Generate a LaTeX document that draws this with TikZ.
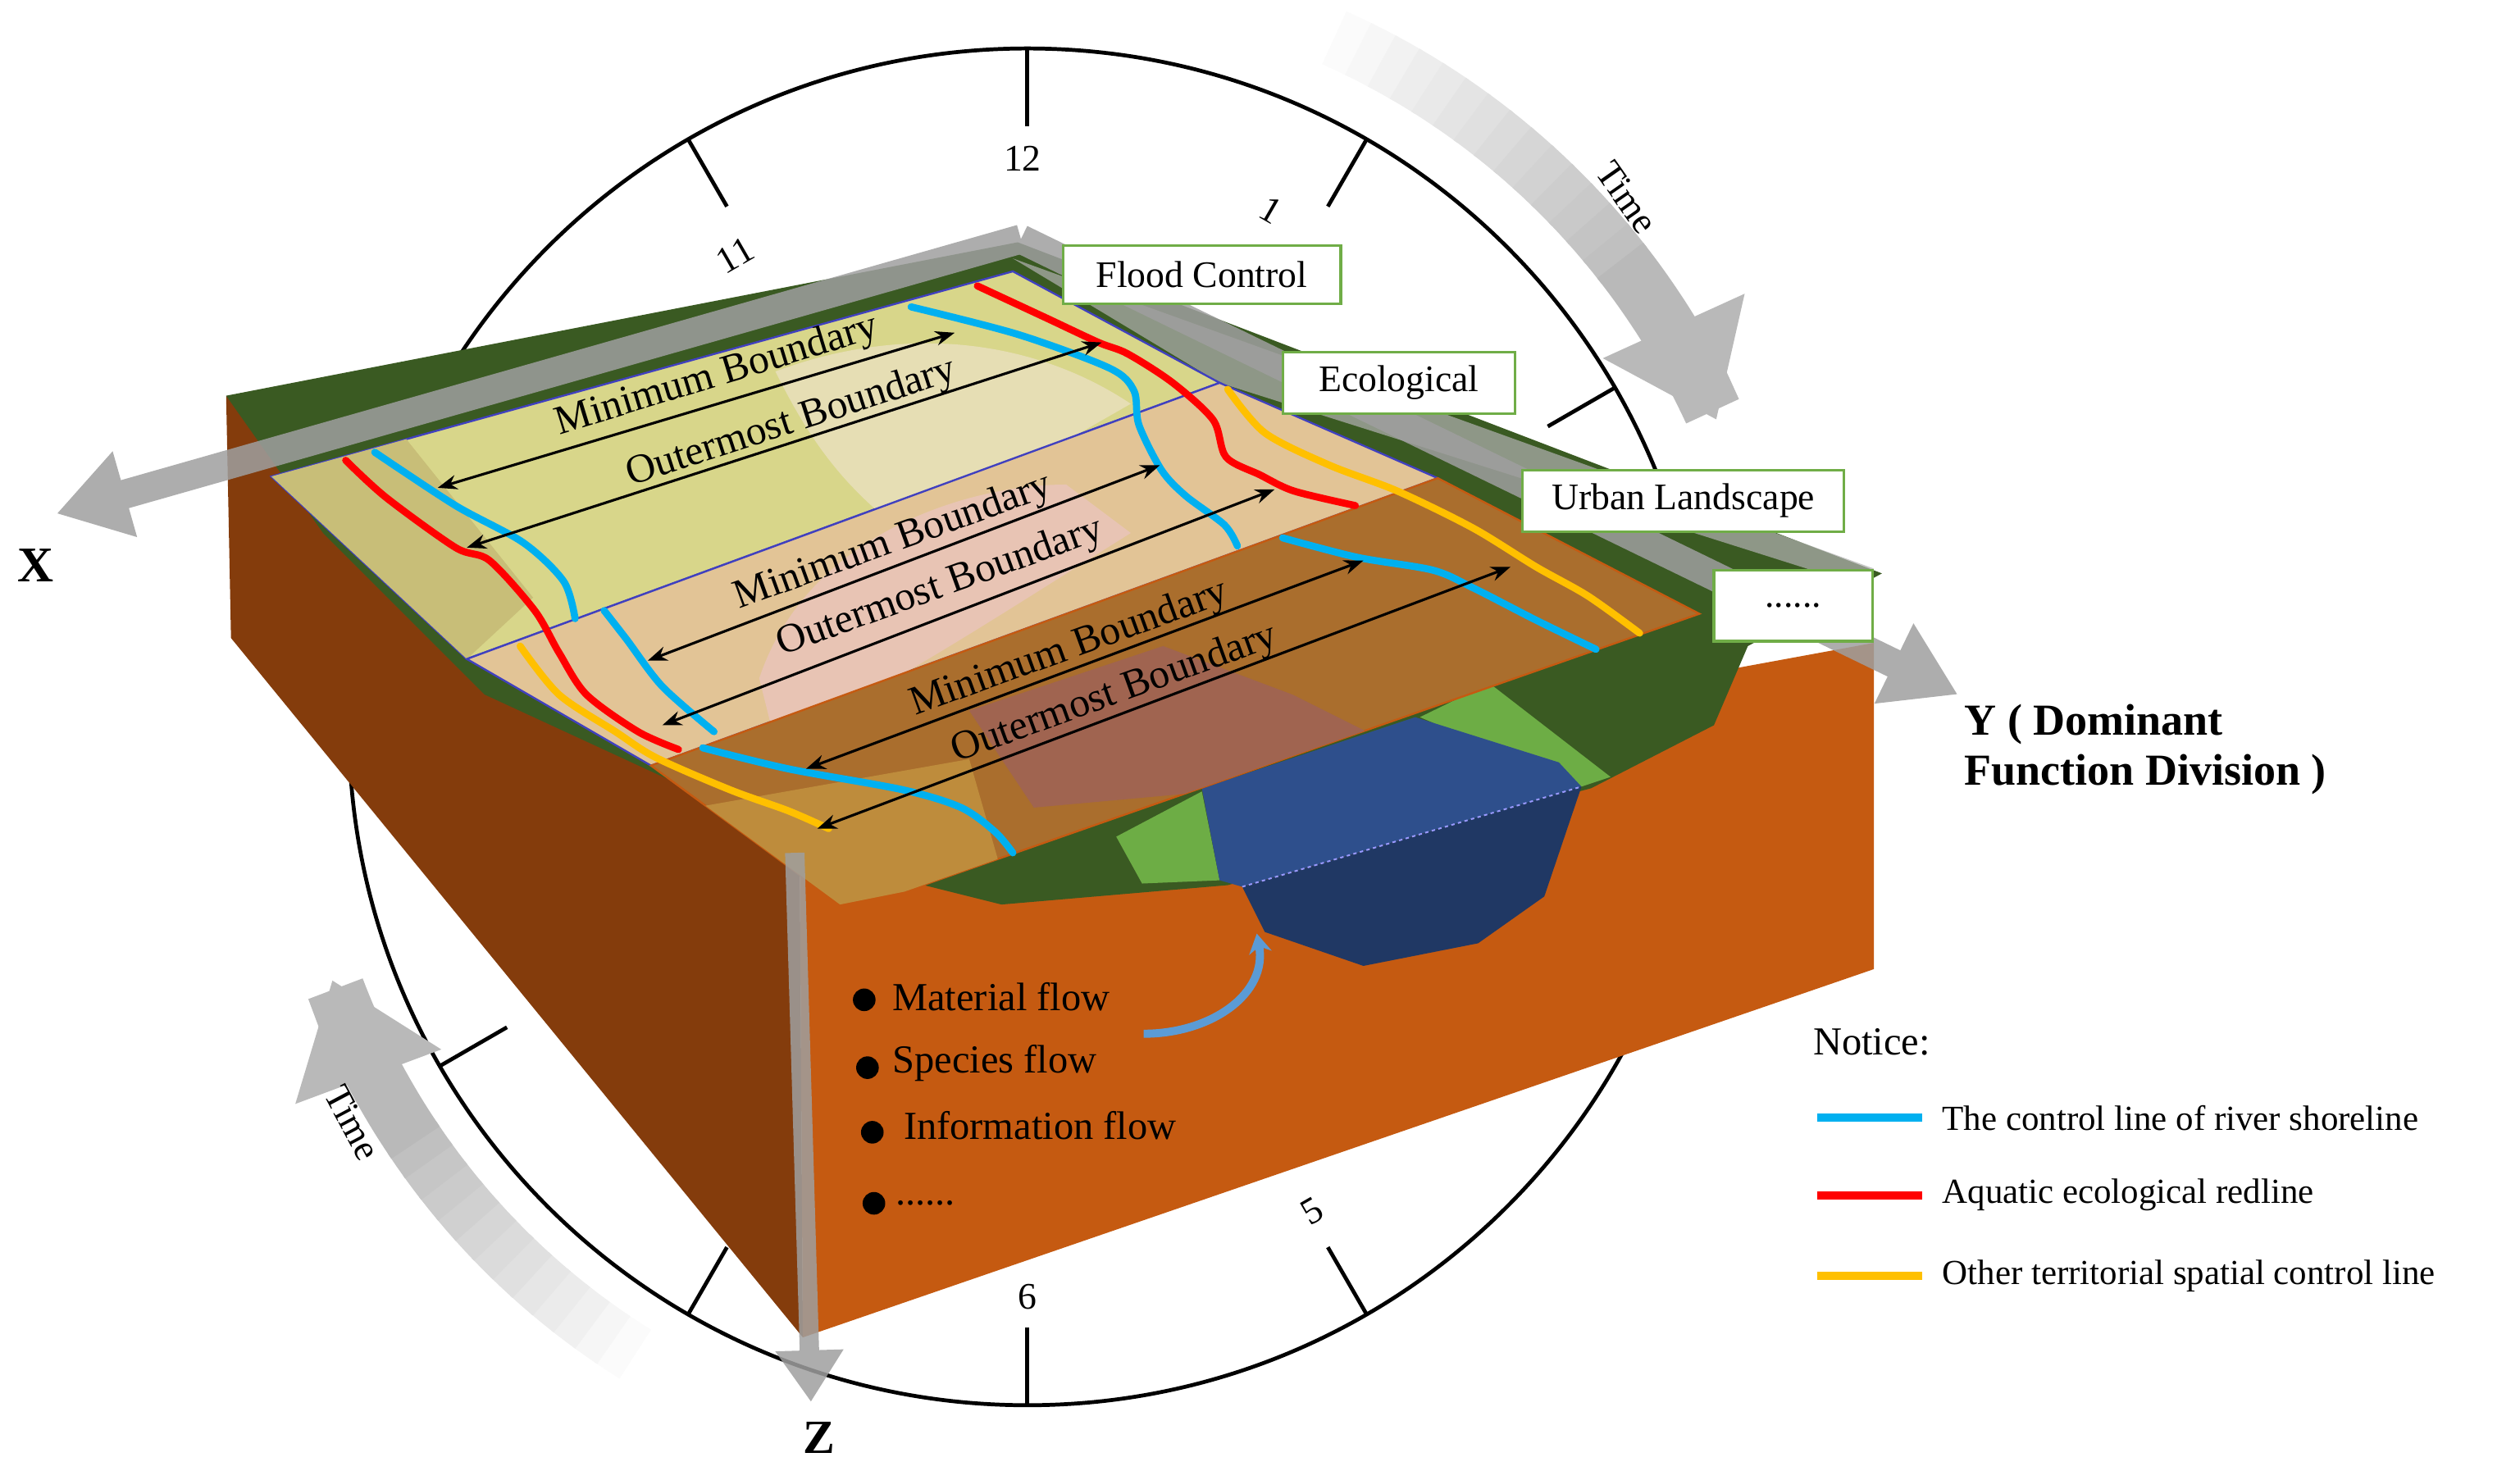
\documentclass[tikz,border=0pt]{standalone}
\usepackage{fontspec}
\setmainfont{Liberation Serif}
\usetikzlibrary{arrows.meta}
\definecolor{dkgreen}{HTML}{3A5A22}
\definecolor{ltgreen}{HTML}{6DAD45}
\definecolor{orng}{HTML}{C55A11}
\definecolor{brwn}{HTML}{843C0C}
\definecolor{rvtop}{HTML}{2E4F8C}
\definecolor{rvbot}{HTML}{203864}
\definecolor{cblue}{HTML}{00B0F0}
\definecolor{cred}{HTML}{FF0000}
\definecolor{cyel}{HTML}{FFC000}
\definecolor{bxgreen}{HTML}{70AD47}
\definecolor{pA}{RGB}{216,214,138}
\definecolor{pA2}{RGB}{200,190,120}
\definecolor{pA3}{RGB}{230,222,180}
\definecolor{pB}{RGB}{226,196,150}
\definecolor{pB2}{RGB}{232,196,180}
\definecolor{pC}{RGB}{170,110,45}
\definecolor{pC2}{RGB}{160,100,80}
\definecolor{pC3}{RGB}{190,140,60}
\definecolor{flowblue}{RGB}{91,155,213}
\tikzset{
 lbl/.style={draw=bxgreen,line width=0.08cm,fill=white,font=\fontsize{33}{36}\selectfont,inner sep=0pt},
 cl/.style={line width=0.22cm,line cap=round},
 dim/.style={line width=0.08cm,{Stealth[length=0.6cm,width=0.45cm]}-{Stealth[length=0.6cm,width=0.45cm]}},
 dimt/.style={font=\fontsize{36}{40}\selectfont},
 axis/.style={gray!75,line width=0.9cm,-{Triangle[length=2.2cm,width=2.6cm]}},
 plane/.style={draw=blue!50!gray,line width=0.06cm},
 tick/.style={line width=0.12cm},
 num/.style={font=\fontsize{33}{36}\selectfont},
 flw/.style={font=\fontsize{35}{38}\selectfont,anchor=west},
 leg/.style={font=\fontsize{31}{34}\selectfont,anchor=west},
}
\begin{document}
\begin{tikzpicture}[x=0.05cm,y=-0.05cm]
\useasboundingbox (0,0) rectangle (1560,916);
% clock
\coordinate (C) at (636,450);
\draw[line width=0.12cm] (C) circle[radius=420*0.05cm];
\foreach \h in {11,12,1,2,5,6,7,8}{
 \draw[tick] ({636+420*cos(90-30*\h)},{450-420*sin(90-30*\h)}) -- ({636+372*cos(90-30*\h)},{450-372*sin(90-30*\h)});}
\node[num] (n12) at (633,98) {12};
\node[num,rotate=30] (n11) at (455,158) {11};
\node[num,rotate=-30] (n1) at (787,130) {1};
\node[num,rotate=30] (n5) at (812,750) {5};
\node[num] (n6) at (636,803) {6};
% time arrows (fading tails)
\foreach \i in {0,...,13}{
 \pgfmathsetmacro{\a}{66-2*\i}\pgfmathsetmacro{\c}{3+3.6*\i}
 \draw[gray!\c,line width=1.8cm] plot[domain=\a:\a-2.3,samples=3] ({636+467*cos(\x)},{450-467*sin(\x)});}
\draw[gray!55,line width=1.8cm,-{Triangle[length=3.2cm,width=4.6cm]}] plot[domain=38.2:24,samples=20] ({636+467*cos(\x)},{450-467*sin(\x)});
\foreach \i in {0,...,11}{
 \pgfmathsetmacro{\a}{238-2*\i}\pgfmathsetmacro{\c}{3+4.2*\i}
 \draw[gray!\c,line width=1.8cm] plot[domain=\a:\a-2.3,samples=3] ({636+458*cos(\x)},{450-458*sin(\x)});}
\draw[gray!55,line width=1.8cm,-{Triangle[length=3.2cm,width=4.6cm]}] plot[domain=214.2:200,samples=20] ({636+458*cos(\x)},{450-458*sin(\x)});
\node[num,rotate=-55] (t1) at (1007,122) {Time};
\node[num,rotate=-62] (t2) at (218,695) {Time};
% block faces
\fill[brwn] (140,245) -- (495,520) -- (497,828) -- (143,395) -- cycle;
\fill[orng] (495,520) -- (1160,398) -- (1160,600) -- (497,828) -- cycle;
% ground
\fill[dkgreen] (140,245) -- (630,150) -- (1165,355) -- (1082,400) -- (1061,449) -- (985,488) -- (760,548) -- (620,560) -- (560,545) -- (495,520) -- (300,430) -- (200,330) -- cycle;
\fill[ltgreen] (691,518) -- (744,490) -- (755,545) -- (707,547) -- cycle;
\fill[ltgreen] (879,444) -- (922,423) -- (997,481) -- (979,487) -- cycle;
% river
\fill[rvtop] (744,488) -- (876,444) -- (965,472) -- (979,487) -- (769,549) -- (755,545) -- cycle;
\fill[rvbot] (769,549) -- (979,487) -- (956,555) -- (915,584) -- (844,598) -- (783,577) -- cycle;
\draw[blue!40,line width=0.05cm,dashed] (769,549) -- (979,487);
% planes
\fill[fill=gray!60,opacity=0.7] (627,160) -- (1160,352) -- (1150,362) -- (755,237) -- cycle;
\path[plane,fill=pA] (168,295) -- (627,168) -- (755,237) -- (289,408) -- cycle;
\begin{scope}
\clip (168,295) -- (627,168) -- (755,237) -- (289,408) -- cycle;
\fill[pA2] (168,295) -- (250,270) -- (330,370) -- (289,408) -- cycle;
\fill[pA3] (480,230) .. controls (560,200) and (640,210) .. (700,250) -- (560,330) .. controls (520,300) and (500,270) .. (480,230) -- cycle;
\end{scope}
\path[plane,fill=pB] (289,408) -- (755,237) -- (890,296) -- (403,474) -- cycle;
\begin{scope}
\clip (289,408) -- (755,237) -- (890,296) -- (403,474) -- cycle;
\fill[pB2] (470,420) .. controls (500,330) and (600,300) .. (660,300) -- (700,330) .. controls (620,380) and (560,420) .. (480,460) -- cycle;
\end{scope}
\path[plane,draw=orng,fill=pC] (403,474) -- (890,296) -- (1052,380) -- (560,552) -- (520,560) -- cycle;
\begin{scope}
\clip (403,474) -- (890,296) -- (1052,380) -- (560,552) -- (520,560) -- cycle;
\fill[pC2] (600,440) -- (720,400) -- (800,430) -- (880,470) -- (750,490) -- (640,500) -- cycle;
\fill[pC3] (430,500) -- (600,470) -- (620,540) -- (520,560) -- cycle;
\end{scope}
% axes
\coordinate (O) at (632,148);
\coordinate (Xe) at (35,318);
\coordinate (Ye) at (1212,430);
\coordinate (Zs) at (492,528);
\coordinate (Ze) at (502,868);
\begin{scope}[transparency group,opacity=0.85]
\draw[axis] (O) -- (Xe);
\draw[axis] (O) -- (Ye);
\draw[axis,line width=0.6cm,-{Triangle[length=1.6cm,width=2cm]}] (Zs) -- (Ze);
\end{scope}
\node[font=\fontsize{44}{46}\selectfont\bfseries] (X) at (22,350) {X};
\node[font=\fontsize{42}{44}\selectfont\bfseries] (Z) at (507,890) {Z};
\node[font=\fontsize{39}{44}\selectfont\bfseries,anchor=north west,align=left,inner sep=0pt] (Y) at (1216,436) {Y ( Dominant\\Function Division )};
% control lines
\draw[cl,cred] plot[smooth] coordinates {(214,285) (239,308) (282,339) (303,347) (331,378) (346,404) (363,430) (395,453) (420,464)};
\draw[cl,cblue] plot[smooth] coordinates {(232,280) (282,313) (324,336) (349,360) (356,383)};
\draw[cl,cblue] plot[smooth] coordinates {(374,378) (388,396) (410,425) (442,453)};
\draw[cl,cyel] plot[smooth] coordinates {(322,400) (346,430) (381,453) (406,469) (452,489) (488,502) (513,513)};
\draw[cl,cblue] plot[smooth] coordinates {(435,463) (488,476) (559,489) (595,500) (616,515) (627,528)};
\draw[cl,cred] plot[smooth] coordinates {(605,177) (648,197) (680,212) (698,219) (726,237) (751,260) (759,283) (780,294) (801,304) (839,313)};
\draw[cl,cblue] plot[smooth] coordinates {(564,190) (630,207) (687,228) (702,242) (705,263) (719,291) (734,307) (758,325) (766,338)};
\draw[cl,cyel] plot[smooth] coordinates {(760,241) (783,268) (823,288) (865,304) (912,327) (951,351) (983,369) (1015,392)};
\draw[cl,cblue] plot[smooth] coordinates {(794,333) (840,345) (887,353) (912,364) (951,384) (988,402)};
% dimension arrows
\coordinate (a1) at (271,302); \coordinate (b1) at (591,206);
\coordinate (a2) at (289,339); \coordinate (b2) at (682,212);
\coordinate (a3) at (401,409); \coordinate (b3) at (718,288);
\coordinate (a4) at (410,449); \coordinate (b4) at (789,303);
\coordinate (a5) at (499,476); \coordinate (b5) at (844,347);
\coordinate (a6) at (506,513); \coordinate (b6) at (935,351);
\foreach \i in {1,2,3,4,5,6}{\draw[dim] (a\i) -- (b\i);}
\node[dimt,rotate=17] (m1) at (444,233) {Minimum Boundary};
\node[dimt,rotate=18] (o1) at (490,262) {Outermost Boundary};
\node[dimt,rotate=20] (m2) at (553,336) {Minimum Boundary};
\node[dimt,rotate=20] (o2) at (582,364) {Outermost Boundary};
\node[dimt,rotate=20] (m3) at (662,402) {Minimum Boundary};
\node[dimt,rotate=20] (o3) at (690,430) {Outermost Boundary};
% boxes
\node[lbl,minimum width=172*0.05cm,minimum height=36*0.05cm] (fc) at (744,170) {Flood Control};
\node[lbl,minimum width=144*0.05cm,minimum height=38*0.05cm] (ec) at (866,237) {Ecological};
\node[lbl,minimum width=199*0.05cm,minimum height=38*0.05cm] (ul) at (1042,310) {Urban Landscape};
\node[lbl,minimum width=98*0.05cm,minimum height=44*0.05cm] (dt) at (1110,375) {......};
% flows
\node[flw] (f1) at (550,617) {Material flow};
\node[flw] (f2) at (550,658) {Species flow};
\node[flw] (f3) at (557,697) {Information flow};
\node[flw] (f4) at (552,745) {......};
\fill (535,619) circle[radius=0.35cm];
\fill (537,661) circle[radius=0.35cm];
\fill (540,701) circle[radius=0.35cm];
\fill (541,745) circle[radius=0.35cm];
\coordinate (ba) at (708,640); \coordinate (bb) at (778,578);
\draw[flowblue,line width=0.25cm,-{Stealth[length=0.6cm,width=0.7cm]}] (ba) .. controls (750,640) and (785,615) .. (bb);
% legend
\node[flw] (nt) at (1120,645) {Notice:};
\draw[cblue,line width=0.25cm] (1125,692) -- (1190,692);
\draw[cred,line width=0.25cm] (1125,740) -- (1190,740);
\draw[cyel,line width=0.25cm] (1125,790) -- (1190,790);
\node[leg] (l1) at (1200,692) {The control line of river shoreline};
\node[leg] (l2) at (1200,740) {Aquatic ecological redline};
\node[leg] (l3) at (1200,790) {Other territorial spatial control line};
\end{tikzpicture}
\end{document}
